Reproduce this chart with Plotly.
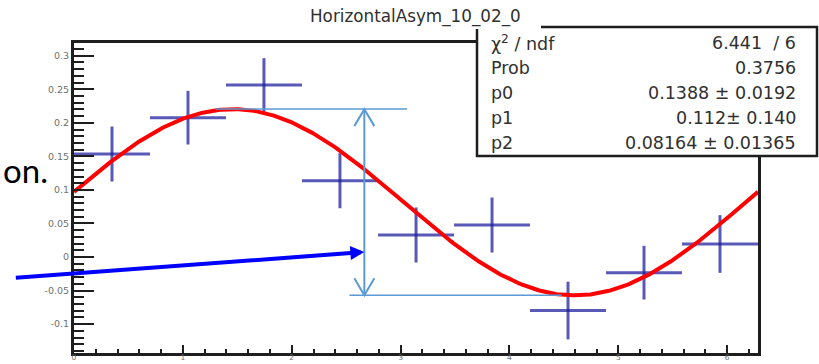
import numpy as np
import plotly.graph_objects as go

# ---------------------------------------------------------------------------
# Horizontal asymmetry per azimuthal bin (9 bins over 0..2*pi)
# ---------------------------------------------------------------------------
bin_centers = [0.349, 1.047, 1.745, 2.443, 3.142, 3.840, 4.538, 5.236, 5.934]
bin_half_widths = [0.349, 0.349, 0.349, 0.349, 0.349, 0.349, 0.349, 0.349, 0.349]
asym_values = [0.1535, 0.2077, 0.2564, 0.1137, 0.0328, 0.0477, -0.0798, -0.0234, 0.0194]
asym_errors = [0.041, 0.040, 0.040, 0.041, 0.041, 0.041, 0.043, 0.040, 0.043]

# Fit result: f(phi) = p2 + p0 * sin(phi + p1)
p0, p0_err = 0.1388, 0.0192
p1, p1_err = 0.112, 0.140
p2, p2_err = 0.08164, 0.01365
chi2, ndf, prob = 6.441, 6, 0.3756

# Axis tick labels
x_tickvals = [0, 1, 2, 3, 4, 5, 6]
x_ticktext = ["0", "1", "2", "3", "4", "5", "6"]
y_tickvals = [-0.1, -0.05, 0, 0.05, 0.1, 0.15, 0.2, 0.25, 0.3]
y_ticktext = ["-0.1", "-0.05", "0", "0.05", "0.1", "0.15", "0.2", "0.25", "0.3"]

TITLE = "HorizontalAsym_10_02_0"

# ---------------------------------------------------------------------------
# Page geometry (pixels) and helpers to place overlay items in paper space
# ---------------------------------------------------------------------------
W, H = 819, 364
PL, PR, PT, PB = 74, 758, 43, 353          # plot frame edges


def px_x(p):
    return (p - PL) / (PR - PL)


def px_y(p):
    return (PB - p) / (PB - PT)


AX_COLOR = "#1e1e1e"
LABEL_COLOR = "#6f6f6f"
TEXT_COLOR = "#303030"
PT_COLOR = "rgba(25,25,155,0.72)"
NOTE_BLUE = "#5b9bd5"
FONT = "DejaVu Sans"

fig = go.Figure()

# data points with bin-width horizontal bars
fig.add_trace(go.Scatter(
    x=bin_centers, y=asym_values, mode="markers",
    marker=dict(size=1, opacity=0, color=PT_COLOR),
    error_x=dict(type="data", array=bin_half_widths, width=0, thickness=3, color=PT_COLOR),
    error_y=dict(type="data", array=asym_errors, width=0, thickness=3, color=PT_COLOR),
    showlegend=False, hoverinfo="skip",
))

# fitted sine
phi = np.linspace(0, 2 * np.pi, 400)
fit = p2 + p0 * np.sin(phi + p1)
fig.add_trace(go.Scatter(
    x=phi, y=fit, mode="lines",
    line=dict(color="#ff0000", width=4),
    showlegend=False, hoverinfo="skip",
))

# ---------------------------------------------------------------------------
# Amplitude marker: peak-to-trough double arrow
# ---------------------------------------------------------------------------
fit_max = p2 + p0
fit_min = p2 - p0
amp_x = 2.667
shapes = [
    dict(type="line", xref="x", yref="y", x0=1.30, x1=3.06, y0=fit_max, y1=fit_max,
         line=dict(color=NOTE_BLUE, width=1.5)),
    dict(type="line", xref="x", yref="y", x0=2.53, x1=4.48, y0=fit_min, y1=fit_min,
         line=dict(color=NOTE_BLUE, width=1.5)),
    dict(type="line", xref="x", yref="y", x0=amp_x, x1=amp_x, y0=fit_min, y1=fit_max,
         line=dict(color=NOTE_BLUE, width=2)),
    dict(type="path", xref="x", yref="y", xsizemode="pixel", ysizemode="pixel",
         xanchor=amp_x, yanchor=fit_max, path="M-10,-17 L0,0 L10,-17",
         line=dict(color=NOTE_BLUE, width=2)),
    dict(type="path", xref="x", yref="y", xsizemode="pixel", ysizemode="pixel",
         xanchor=amp_x, yanchor=fit_min, path="M-10,17 L0,0 L10,17",
         line=dict(color=NOTE_BLUE, width=2)),
    # statistics box
    dict(type="rect", xref="paper", yref="paper",
         x0=px_x(477), x1=px_x(817), y0=px_y(156), y1=px_y(27),
         fillcolor="white", line=dict(color=AX_COLOR, width=2.5), layer="above"),
    # title pad
    dict(type="rect", xref="paper", yref="paper",
         x0=px_x(298), x1=px_x(541), y0=px_y(29), y1=px_y(0),
         fillcolor="white", line=dict(width=0), layer="above"),
]

annotations = []

# title
annotations.append(dict(
    xref="paper", yref="paper", x=px_x(415), y=px_y(17),
    xanchor="center", yanchor="middle", showarrow=False,
    text=TITLE, font=dict(family=FONT, size=16.8, color=TEXT_COLOR),
))

# statistics box rows
stat_rows = [
    ("\u03c7<sup>2</sup> / ndf", f"{chi2:.3f}  / {ndf}"),
    ("Prob", f"{prob:.4f}"),
    ("p0", f"{p0:.4f} \u00b1 {p0_err:.4f}"),
    ("p1", f"{p1:.3f}\u00b1 {p1_err:.3f}"),
    ("p2", f"{p2:.5f} \u00b1 {p2_err:.5f}"),
]
for i, (lab, val) in enumerate(stat_rows):
    yc = px_y(43 + 25 * i)
    annotations.append(dict(
        xref="paper", yref="paper", x=px_x(489), y=yc, xanchor="left", yanchor="middle",
        showarrow=False, text=lab, font=dict(family=FONT, size=17.5, color=TEXT_COLOR),
    ))
    annotations.append(dict(
        xref="paper", yref="paper", x=px_x(798), y=yc, xanchor="right", yanchor="middle",
        showarrow=False, text=val, font=dict(family=FONT, size=17.5, color=TEXT_COLOR),
    ))

# pointer arrow to the amplitude marker
annotations.append(dict(
    xref="x", yref="y", x=amp_x, y=0.0075, ax=-350, ay=26,
    axref="pixel", ayref="pixel", text="", showarrow=True,
    arrowhead=2, arrowsize=0.7, arrowwidth=4, arrowcolor="#0000ff", standoff=0,
))

# slide text fragment at the left edge
annotations.append(dict(
    xref="paper", yref="paper", x=px_x(1), y=px_y(170),
    xanchor="left", yanchor="middle", showarrow=False,
    text="on.", font=dict(family="Lato", size=33, color="#000000"),
))

axis_common = dict(
    showline=True, linecolor=AX_COLOR, linewidth=3, mirror=True,
    ticks="inside", tickcolor=AX_COLOR, tickwidth=2,
    showgrid=False, zeroline=False, automargin=False,
)

fig.update_layout(
    width=W, height=H,
    margin=dict(l=PL, r=W - PR, t=PT, b=H - PB, pad=0, autoexpand=False),
    paper_bgcolor="white", plot_bgcolor="white",
    xaxis=dict(range=[0, 2 * np.pi], tickmode="array", tickvals=x_tickvals, ticktext=x_ticktext,
               ticklen=8, ticklabelstandoff=-5,
               tickfont=dict(family=FONT, size=7.5, color=LABEL_COLOR),
               minor=dict(ticks="inside", ticklen=4, tickwidth=2, tickcolor=AX_COLOR,
                          tick0=0, dtick=0.2),
               **axis_common),
    yaxis=dict(range=[-0.1431, 0.3190], tickmode="array", tickvals=y_tickvals, ticktext=y_ticktext,
               ticklen=20,
               tickfont=dict(family=FONT, size=9.5, color=LABEL_COLOR),
               minor=dict(ticks="inside", ticklen=10, tickwidth=2, tickcolor=AX_COLOR,
                          tick0=0, dtick=0.01),
               **axis_common),
    shapes=shapes,
    annotations=annotations,
)

fig.write_html("out.html")
